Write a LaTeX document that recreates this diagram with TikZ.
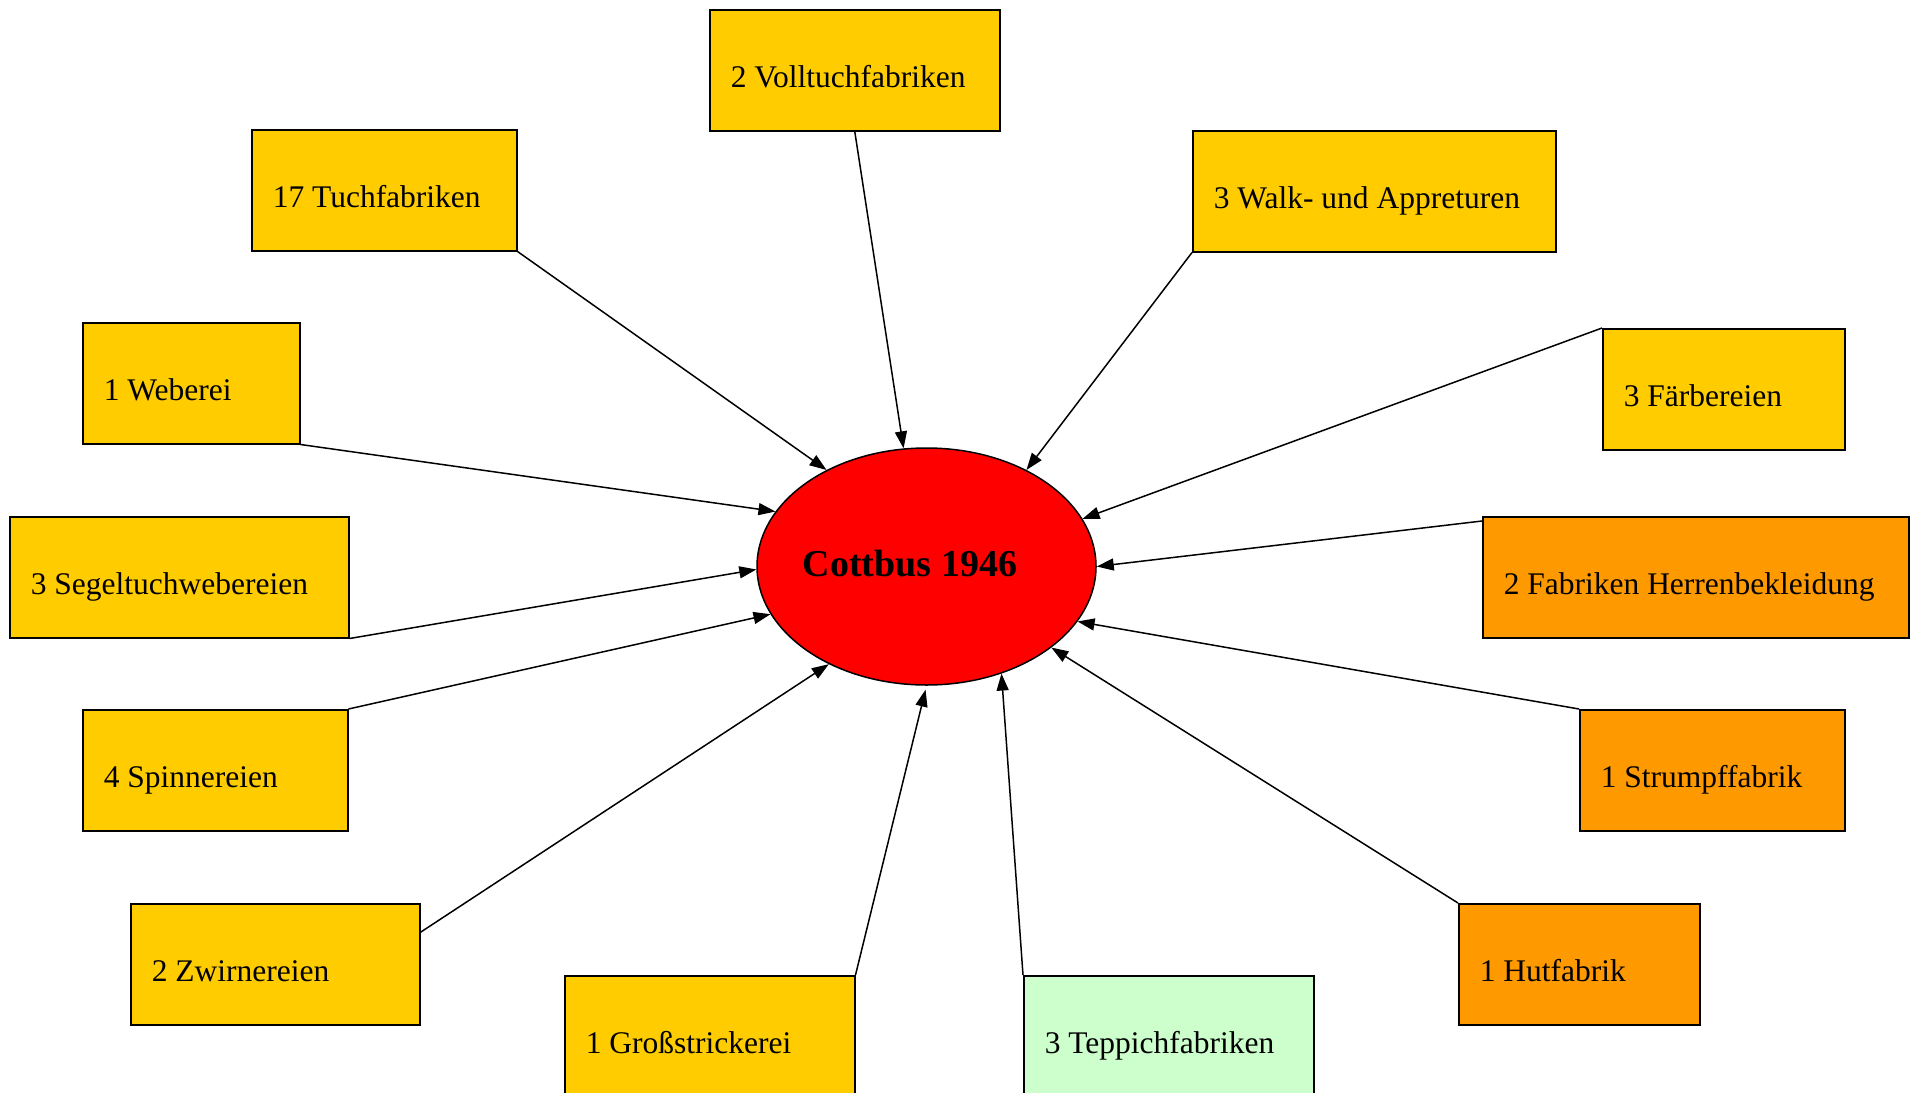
\documentclass[tikz,border=0pt]{standalone}
\usepackage{fontspec}
\setmainfont{Liberation Serif}
\usetikzlibrary{arrows.meta,shapes.geometric}
\definecolor{gold}{HTML}{FFCC00}
\definecolor{amber}{HTML}{FF9900}
\definecolor{mint}{HTML}{CCFFCC}
\definecolor{cityred}{HTML}{FF0000}
% left-aligned label of a fixed width inside a box
\newcommand\boxtext[2]{\makebox[#1][l]{#2}}

\begin{document}
\begin{tikzpicture}[x=1pt,y=-1pt,
  box/.style={draw=black, line width=1.5pt, anchor=north west,
    minimum height=121pt, inner xsep=21pt, inner ysep=0pt,
    text height=35pt, text depth=0pt, font=\fontsize{31.5}{36}\selectfont},
  textile/.style={box, fill=gold},
  clothing/.style={box, fill=amber},
  carpet/.style={box, fill=mint},
  link/.style={draw=black, line width=1.5pt, -{Triangle[length=17pt,width=12pt]}},
  city/.style={ellipse, draw=black, line width=1.5pt, fill=cityred,
    minimum width=339pt, minimum height=237pt, inner sep=0pt,
    font=\bfseries\fontsize{38}{44}\selectfont}
]
\useasboundingbox (0,0) rectangle (1910,1092);
\fill[white] (0,0) rectangle (1910,1092);
\clip (0,0) rectangle (1910,1092);

% centre (label set a little left of the middle)
\node[city] (city) at (926.5,566.5)
  {\makebox[0pt]{\raisebox{6.5pt}{Cottbus 1946}\hspace*{33pt}}};

% textile works
\node[textile] (voll)    at (709,9)    {\boxtext{248pt}{2 Volltuchfabriken}};
\node[textile] (tuch)    at (251,129)  {\boxtext{223pt}{17 Tuchfabriken}};
\node[textile] (walk)    at (1192,130) {\boxtext{321pt}{3 Walk- und Appreturen}};
\node[textile] (weberei) at (82,322)   {\boxtext{175pt}{1 Weberei}};
\node[textile] (faerb)   at (1602,328) {\boxtext{200pt}{3 Färbereien}};
\node[textile] (segel)   at (9,516)    {\boxtext{297pt}{3 Segeltuchwebereien}};
\node[textile] (spinn)   at (82,709)   {\boxtext{223pt}{4 Spinnereien}};
\node[textile] (zwirn)   at (130,903)  {\boxtext{247pt}{2 Zwirnereien}};
\node[textile] (gross)   at (564,975)  {\boxtext{248pt}{1 Großstrickerei}};

% clothing works
\node[clothing] (herren)  at (1482,516) {\boxtext{384pt}{2 Fabriken Herrenbekleidung}};
\node[clothing] (strumpf) at (1579,709) {\boxtext{223pt}{1 Strumpffabrik}};
\node[clothing] (hut)     at (1458,903) {\boxtext{199pt}{1 Hutfabrik}};

% carpet works
\node[carpet] (tepp) at (1023,975) {\boxtext{248pt}{3 Teppichfabriken}};

% connectors
\draw[link] (tuch.south east) -- (city.136.2);
\draw[link] (voll.south) -- (city.101.6);
\draw[link] (walk.south west) -- (city.44.7);
\draw[link] (weberei.south east) -- (city.160.9);
\draw[link] (faerb.north west) -- (city.17.4);
\draw[link] (segel.south east) -- (city.181.2);
\draw[link] ([yshift=-5pt]herren.north west) -- (city.east);
\draw[link] (spinn.north east) -- (city.197.4);
\draw[link] (strumpf.north west) -- (city.340.9);
\draw[link] (hut.north west) -- (city.327.8);
\draw[link] ([yshift=32pt]zwirn.east) -- (city.225.9);
\draw[link] (tepp.north west) -- (city.305.8);
\draw[link, shorten >=4pt] (gross.north east) -- (city.270.7);
\end{tikzpicture}
\end{document}
